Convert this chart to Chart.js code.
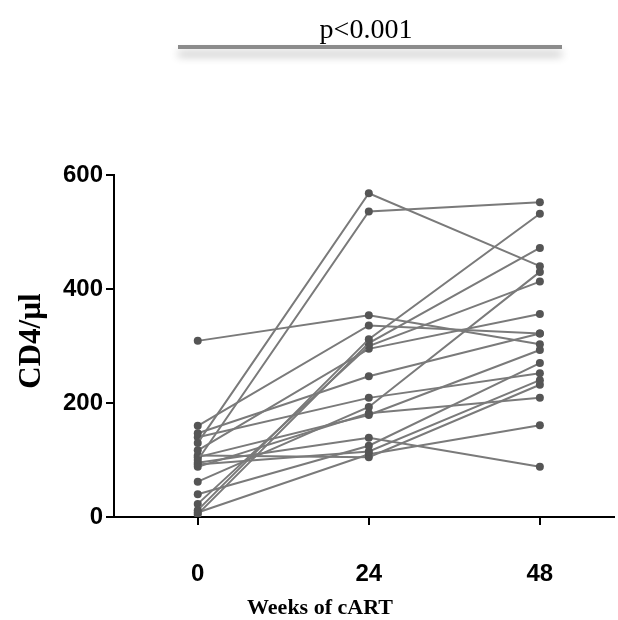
<!DOCTYPE html>
<html>
<head>
<meta charset="utf-8">
<script src="https://cdn.jsdelivr.net/npm/chart.js@4.4.0/dist/chart.umd.min.js"></script>
<style>
  html, body { margin: 0; padding: 0; background: #ffffff; }
  #wrap { width: 618px; height: 620px; position: relative; }
</style>
</head>
<body>
<div id="wrap"><canvas id="cd4Chart" width="618" height="620"></canvas></div>
<script>
// Weeks on cART (x positions) and tick labels
const weeks = [0, 24, 48];
const yTicks = [0, 200, 400, 600];

// CD4 counts per patient (week 0, week 24, week 48)
const week0  = [309, 130, 100, 160,  12,   5,  23, 117, 147, 140,  62,  88, 105,  95,  40,  92, 108,   8];
const week24 = [354, 568, 536, 336, 312, 305, 300, 295, 247, 209, 193, 182, 179, 139, 125, 115, 105, 110];
const week48 = [303, 440, 552, 322, 532, 472, 413, 356, 322, 252, 430, 209, 293,  88, 270, 240, 232, 161];

const pLabel = 'p<0.001';
const xTitle = 'Weeks of cART';
const yTitle = 'CD4/\u00b5l';

const lineColor = '#7a7a7a';
const pointColor = '#555555';

// one dataset per patient
const datasets = week0.map((v, i) => ({
    label: 'Patient ' + (i + 1),
    data: [
        { x: weeks[0], y: week0[i] },
        { x: weeks[1], y: week24[i] },
        { x: weeks[2], y: week48[i] }
    ],
    showLine: true,
    borderColor: lineColor,
    borderWidth: 2,
    backgroundColor: pointColor,
    pointBackgroundColor: pointColor,
    pointBorderWidth: 0,
    pointRadius: 4,
    tension: 0
}));

// draws the axis titles and the significance bar
const annotations = {
    id: 'annotations',
    afterDraw(chart) {
        const ctx = chart.ctx;
        ctx.save();

        // significance bar with soft shadow
        ctx.save();
        ctx.shadowColor = 'rgba(0,0,0,0.3)';
        ctx.shadowBlur = 8;
        ctx.shadowOffsetY = 7;
        ctx.strokeStyle = '#8c8c8c';
        ctx.lineWidth = 4;
        ctx.beginPath();
        ctx.moveTo(178, 47);
        ctx.lineTo(562, 47);
        ctx.stroke();
        ctx.restore();

        ctx.fillStyle = '#000';
        ctx.textAlign = 'center';
        ctx.textBaseline = 'alphabetic';
        ctx.font = '28px "Liberation Serif", "Times New Roman", serif';
        ctx.fillText(pLabel, 366, 38);

        ctx.font = 'bold 22px "Liberation Serif", "Times New Roman", serif';
        ctx.fillText(xTitle, 320, 614);

        ctx.translate(40, 341);
        ctx.rotate(-Math.PI / 2);
        ctx.font = 'bold 31px "Liberation Serif", "Times New Roman", serif';
        ctx.fillText(yTitle, 0, 0);

        ctx.restore();
    }
};

const tickFont = { family: '"Liberation Sans", Arial, sans-serif', size: 24, weight: 'bold' };

new Chart(document.getElementById('cd4Chart').getContext('2d'), {
    type: 'scatter',
    data: { datasets: datasets },
    options: {
        responsive: false,
        animation: false,
        layout: { padding: { top: 175, right: 3, left: 0, bottom: 0 } },
        plugins: {
            legend: { display: false },
            tooltip: { enabled: false }
        },
        scales: {
            x: {
                type: 'linear',
                min: -11.75,
                max: 58.4,
                afterBuildTicks: (scale) => { scale.ticks = weeks.map(w => ({ value: w })); },
                afterFit: (scale) => { scale.height = 103; },
                grid: { drawOnChartArea: false, drawTicks: true, tickLength: 8, color: '#000', lineWidth: 2 },
                border: { display: true, color: '#000', width: 2 },
                ticks: { color: '#000', font: tickFont, padding: 35, autoSkip: false, maxRotation: 0 }
            },
            y: {
                type: 'linear',
                min: 0,
                max: 600,
                afterBuildTicks: (scale) => { scale.ticks = yTicks.map(t => ({ value: t })); },
                afterFit: (scale) => { scale.width = 114; },
                grid: { drawOnChartArea: false, drawTicks: true, tickLength: 8, color: '#000', lineWidth: 2 },
                border: { display: true, color: '#000', width: 2 },
                ticks: { color: '#000', font: tickFont, padding: 3 }
            }
        }
    },
    plugins: [annotations]
});
</script>
</body>
</html>
